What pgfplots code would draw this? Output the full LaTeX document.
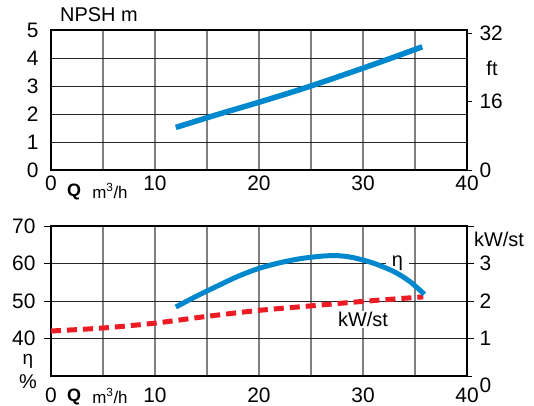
\documentclass[border=0pt]{standalone}
\usepackage{fontspec}
\setmainfont{Liberation Sans}
\usepackage{pgfplots}
\pgfplotsset{compat=1.18}
\definecolor{curveblue}{RGB}{0,136,206}
\definecolor{curvered}{RGB}{237,28,36}
\newcommand{\lbl}{\fontsize{20}{22}\selectfont}
\newcommand{\tlbl}{\fontsize{21}{23}\selectfont}
\newcommand{\slbl}{\fontsize{19}{21}\selectfont}
\newcommand{\qlbl}{\bfseries\fontsize{18}{20}\selectfont}
\newcommand{\ulbl}{\fontsize{17}{19}\selectfont}
\pgfplotsset{
  pumpbase/.style={
    scale only axis, width=416bp,
    xmin=0, xmax=40,
    /pgf/number format/assume math mode=true,
    axis line style={line width=1.6bp},
  },
  gridded/.style={
    xtick={0,5,...,40}, xticklabels={0,,10,,20,,30,,40},
    grid=major,
    x grid style={black!50, line width=1.2bp},
    y grid style={black!85, line width=0.7bp},
    minor y grid style={black!85, line width=0.7bp},
    major x tick style={draw=none},
  },
}
\begin{document}
\begin{tikzpicture}
\useasboundingbox (-51bp,-236bp) rectangle (483bp,170bp);

% ---- NPSH ----
\begin{axis}[pumpbase, gridded, at={(0,0)}, anchor=south west, height=140bp,
  ymin=0, ymax=5, ytick={0,...,5}, major y tick style={draw=none},
  yticklabel style={font=\tlbl, xshift=-9bp},
  xticklabel style={font=\tlbl, yshift=-2bp}]
\addplot[curveblue, line width=5.5bp, smooth] coordinates {
  (12,1.52) (16,1.98) (20,2.42) (24,2.88) (28,3.38) (32,3.90) (35.7,4.40)
};
\end{axis}
\begin{axis}[pumpbase, at={(0,0)}, anchor=south west, height=140bp,
  axis x line=none, axis y line*=right, ymin=0, ymax=32.7, ytick={0,16,32},
  tick align=outside, major tick length=5bp, tick style={black, line width=0.8bp},
  yticklabel style={font=\tlbl, xshift=4bp}]
\end{axis}
\node[font=\lbl, anchor=west, inner sep=0pt] at (9bp,155bp) {NPSH m};
\node[font=\lbl] at (441bp,102bp) {ft};
\node[font=\qlbl] at (23bp,-22bp) {Q};
\node[font=\ulbl] at (59bp,-21bp) {m\textsuperscript{3}/h};

% ---- efficiency / power ----
\begin{axis}[pumpbase, gridded, at={(0,-206bp)}, anchor=south west, height=150bp,
  ymin=30, ymax=70, ytick={40,50,60,70}, minor ytick={35,45,55,65},
  minor tick length=0pt, tick align=outside, major tick length=7bp,
  major y tick style={black, line width=0.8bp},
  yticklabel style={font=\tlbl, xshift=-5bp},
  xticklabel style={font=\tlbl, yshift=-1bp}]
\node[font=\lbl, fill=white, inner xsep=6bp, inner ysep=1bp]
  at (axis cs:33.3,60) {η};
\node[font=\lbl, fill=white, inner xsep=7bp, inner ysep=1bp]
  at (axis cs:30,45) {kW/st};
\end{axis}
\begin{axis}[pumpbase, at={(0,-206bp)}, anchor=south west, height=150bp,
  axis x line=none, axis y line*=right, ymin=0, ymax=4, ytick={1,2,3},
  extra y ticks={0}, extra y tick labels={0},
  extra y tick style={yticklabel style={yshift=-9bp}},
  tick align=outside, major tick length=5bp, tick style={black, line width=0.8bp},
  yticklabel style={font=\tlbl, xshift=4bp}]
\addplot[curvered, line width=5bp, dash pattern=on 10bp off 6bp, smooth] coordinates {
  (0,1.20) (5,1.28) (10,1.41) (15,1.59) (20,1.75) (25,1.87) (30,1.99) (35.8,2.11)
};
\end{axis}
\begin{axis}[pumpbase, at={(0,-206bp)}, anchor=south west, height=150bp,
  ymin=30, ymax=70, hide axis]
\addplot[curveblue, line width=5bp, smooth] coordinates {
  (12,48.4) (14,51.3) (16,54.0) (18,56.6) (20,58.7) (22,60.2) (24,61.3)
  (26,61.95) (27.5,62.1) (29,61.6) (31,60.1) (33,57.8) (34.5,55.2) (35.9,51.8)
};
\end{axis}
\node[font=\lbl] at (448bp,-69bp) {kW/st};
\node[font=\slbl, inner sep=0pt] at (-23bp,-191bp) {η};
\node[font=\lbl, inner sep=0pt] at (-23bp,-212bp) {\%};
\node[font=\qlbl] at (23bp,-227bp) {Q};
\node[font=\ulbl] at (59bp,-226bp) {m\textsuperscript{3}/h};
\end{tikzpicture}
\end{document}
